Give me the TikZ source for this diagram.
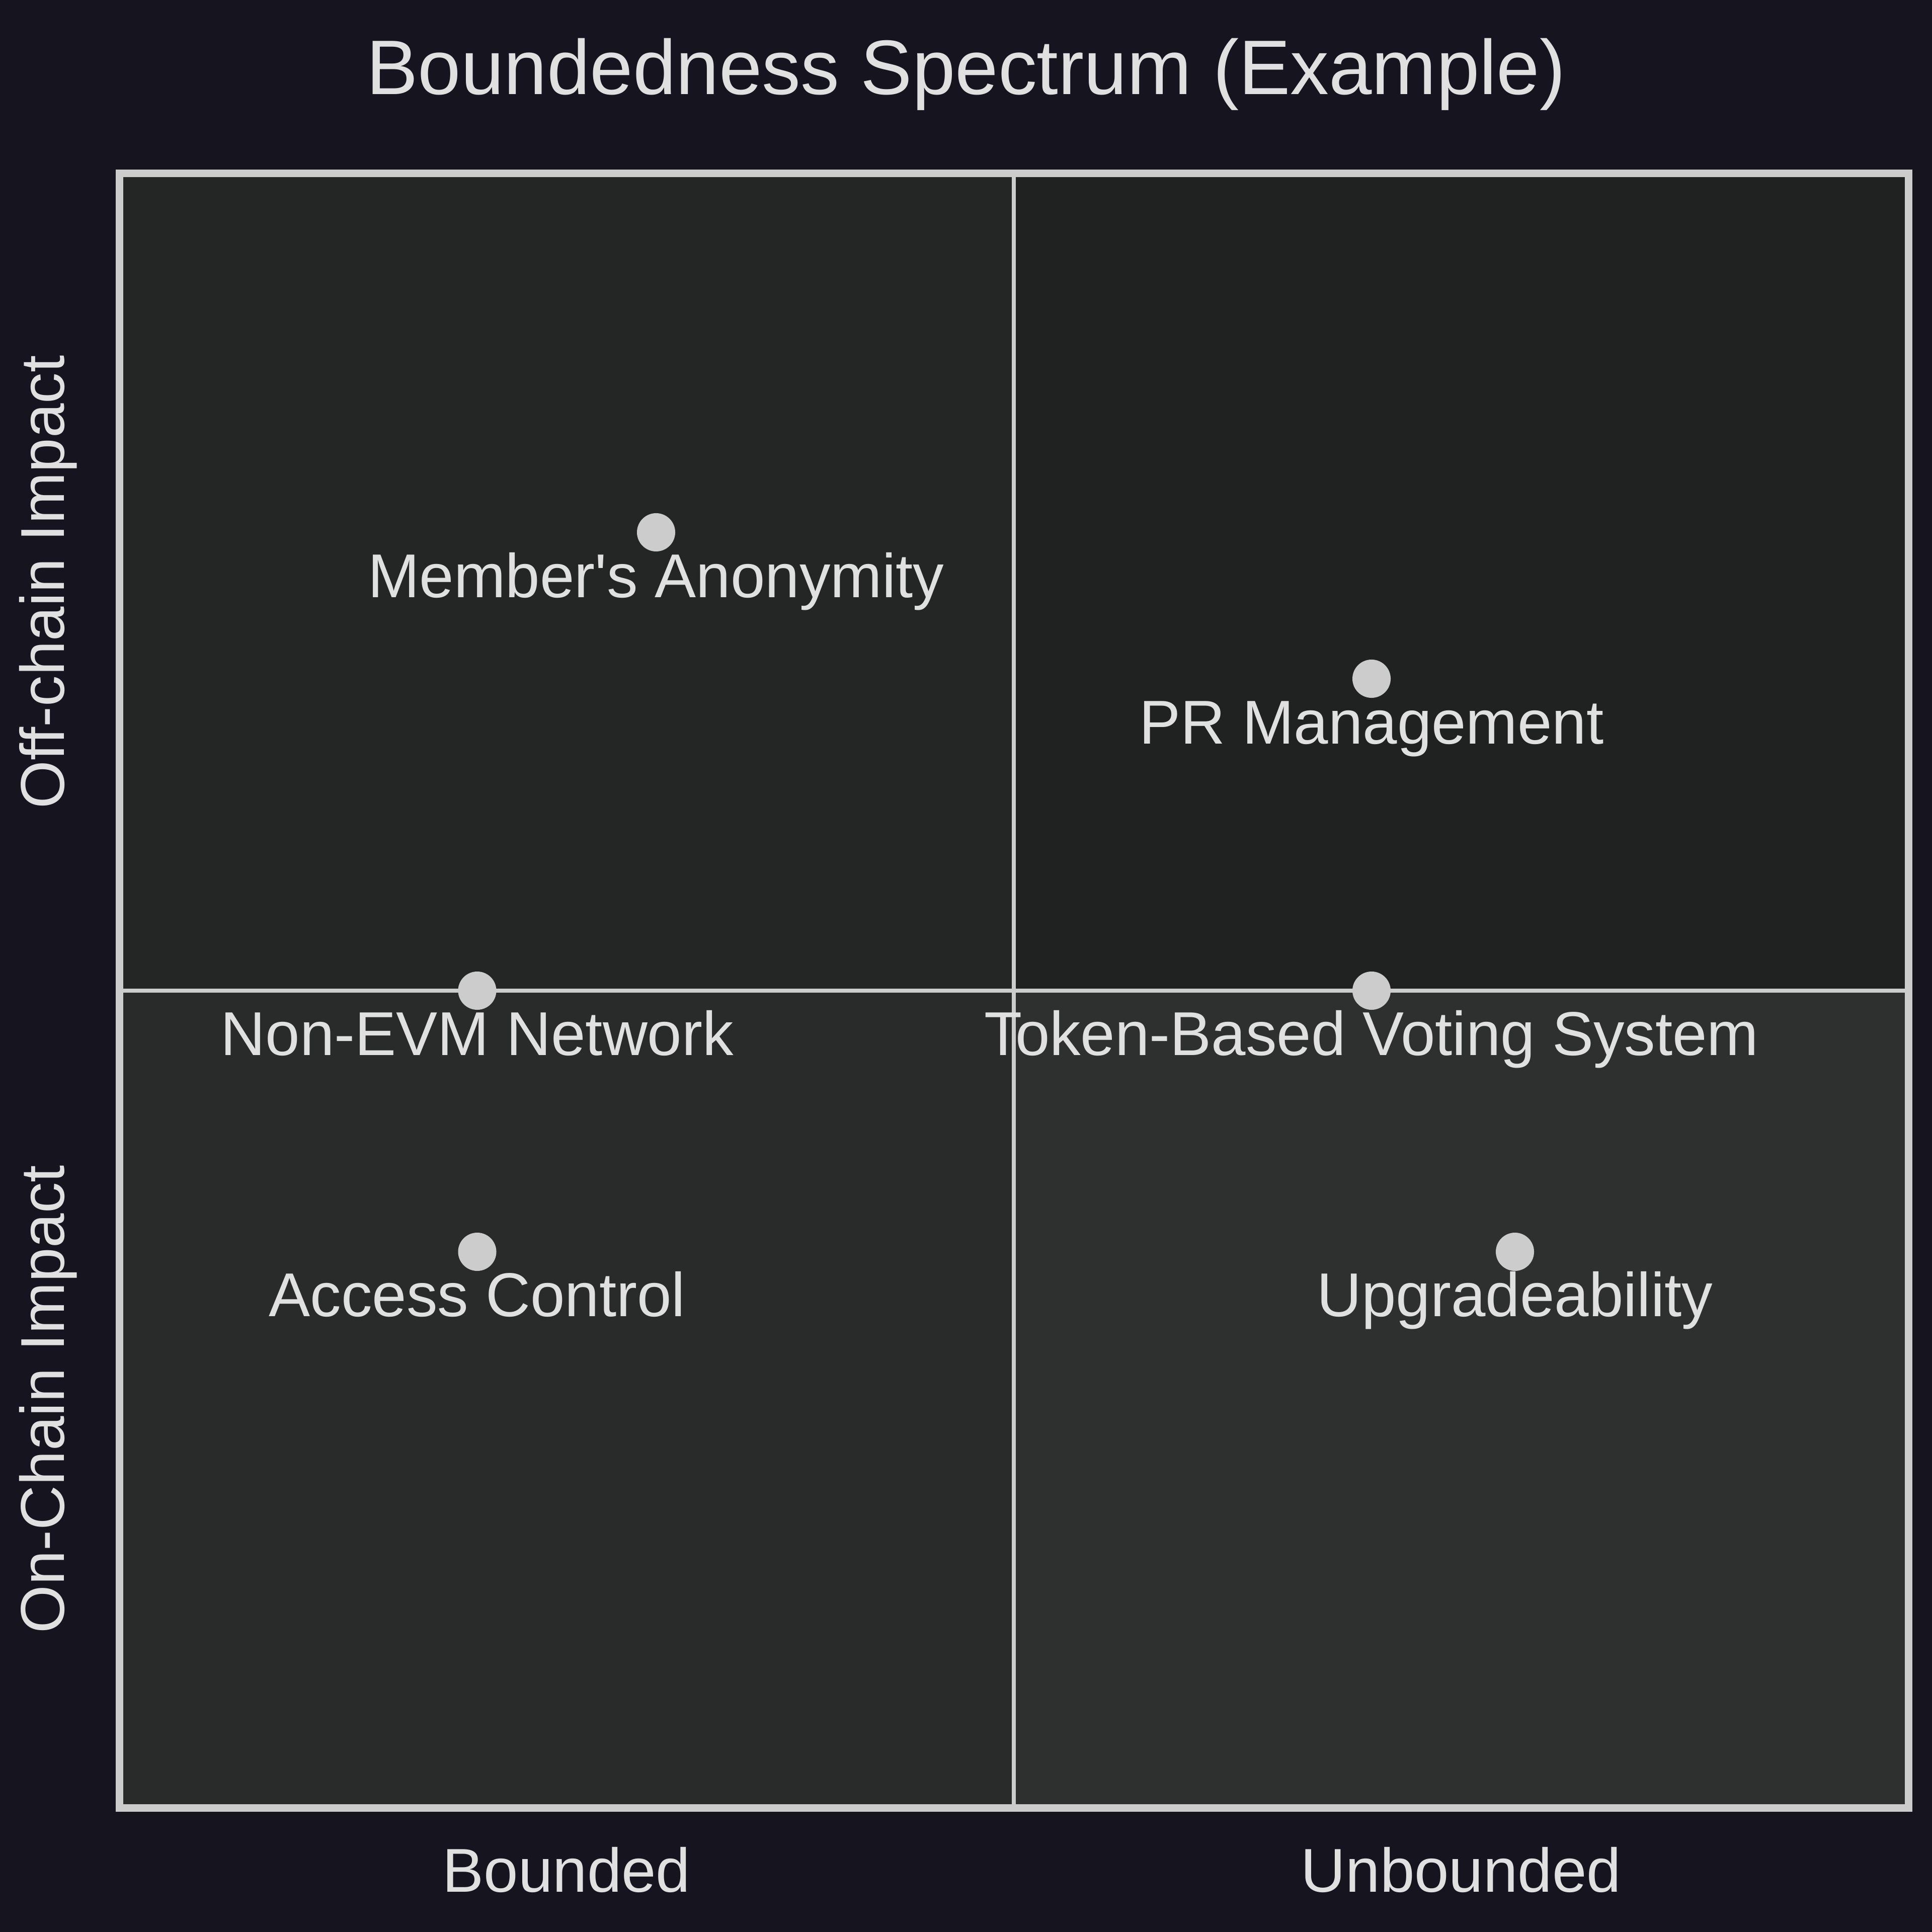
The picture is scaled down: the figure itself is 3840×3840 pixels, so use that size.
\documentclass[tikz,border=0pt]{standalone}
\usepackage{fontspec}
\setmainfont{Liberation Sans}
\definecolor{bgc}{HTML}{16141F}
\definecolor{qtl}{HTML}{242625}
\definecolor{qtr}{HTML}{202221}
\definecolor{qbl}{HTML}{292B2A}
\definecolor{qbr}{HTML}{2E302F}
\definecolor{linec}{HTML}{CCCCCC}
\definecolor{txtc}{HTML}{E0E0E0}
\definecolor{dotc}{HTML}{CCCCCC}
\tikzset{
  lbl/.style={text=txtc, font=\fontsize{35}{42}\selectfont, inner sep=0pt, anchor=base},
  ttl/.style={text=txtc, font=\fontsize{43.7}{52}\selectfont, inner sep=0pt, anchor=base},
  dotp/.style={circle, fill=dotc, minimum size=0.76cm, inner sep=0pt},
}
\begin{document}
\begin{tikzpicture}[x=0.01cm,y=-0.01cm]
\fill[bgc] (0,0) rectangle (3840,3840);
\useasboundingbox (0,0) rectangle (3840,3840);
% quadrants
\fill[qtl] (237.5,344.5) rectangle (2015,1969);
\fill[qtr] (2015,344.5) rectangle (3793,1969);
\fill[qbl] (237.5,1969) rectangle (2015,3593);
\fill[qbr] (2015,1969) rectangle (3793,3593);
% dividers
\coordinate (vt) at (2015,344.5);
\coordinate (vb) at (2015,3593);
\coordinate (hl) at (237.5,1969);
\coordinate (hr) at (3793,1969);
\draw[linec, line width=0.08cm] (vt) -- (vb);
\draw[linec, line width=0.08cm] (hl) -- (hr);
% frame
\draw[linec, line width=0.15cm] (237.5,344.5) rectangle (3793,3593);
% points
\node[dotp] (p1) at (1304,1058) {};
\node[dotp] (p2) at (2726,1349) {};
\node[dotp] (p3) at (948.5,1969) {};
\node[dotp] (p4) at (2726,1969) {};
\node[dotp] (p5) at (948.5,2488) {};
\node[dotp] (p6) at (3011,2488) {};
\node[lbl] (l1) at (1304,1187) {Member\textquotesingle s Anonymity};
\node[lbl] (l2) at (2726,1478) {PR Management};
\node[lbl] (l3) at (948.5,2097) {Non-EVM Network};
\node[lbl] (l4) at (2726,2097) {Token-Based Voting System};
\node[lbl] (l5) at (948.5,2616) {Access Control};
\node[lbl] (l6) at (3011,2616) {Upgradeability};
% axis labels
\node[lbl] (xb) at (1126,3760) {Bounded};
\node[lbl] (xu) at (2904,3760) {Unbounded};
\node[lbl, rotate=90] (yo) at (127,1157) {Off-chain Impact};
\node[lbl, rotate=90] (yc) at (127,2781) {On-Chain Impact};
\node[ttl] (title) at (1920,188) {Boundedness Spectrum (Example)};
\end{tikzpicture}
\end{document}
